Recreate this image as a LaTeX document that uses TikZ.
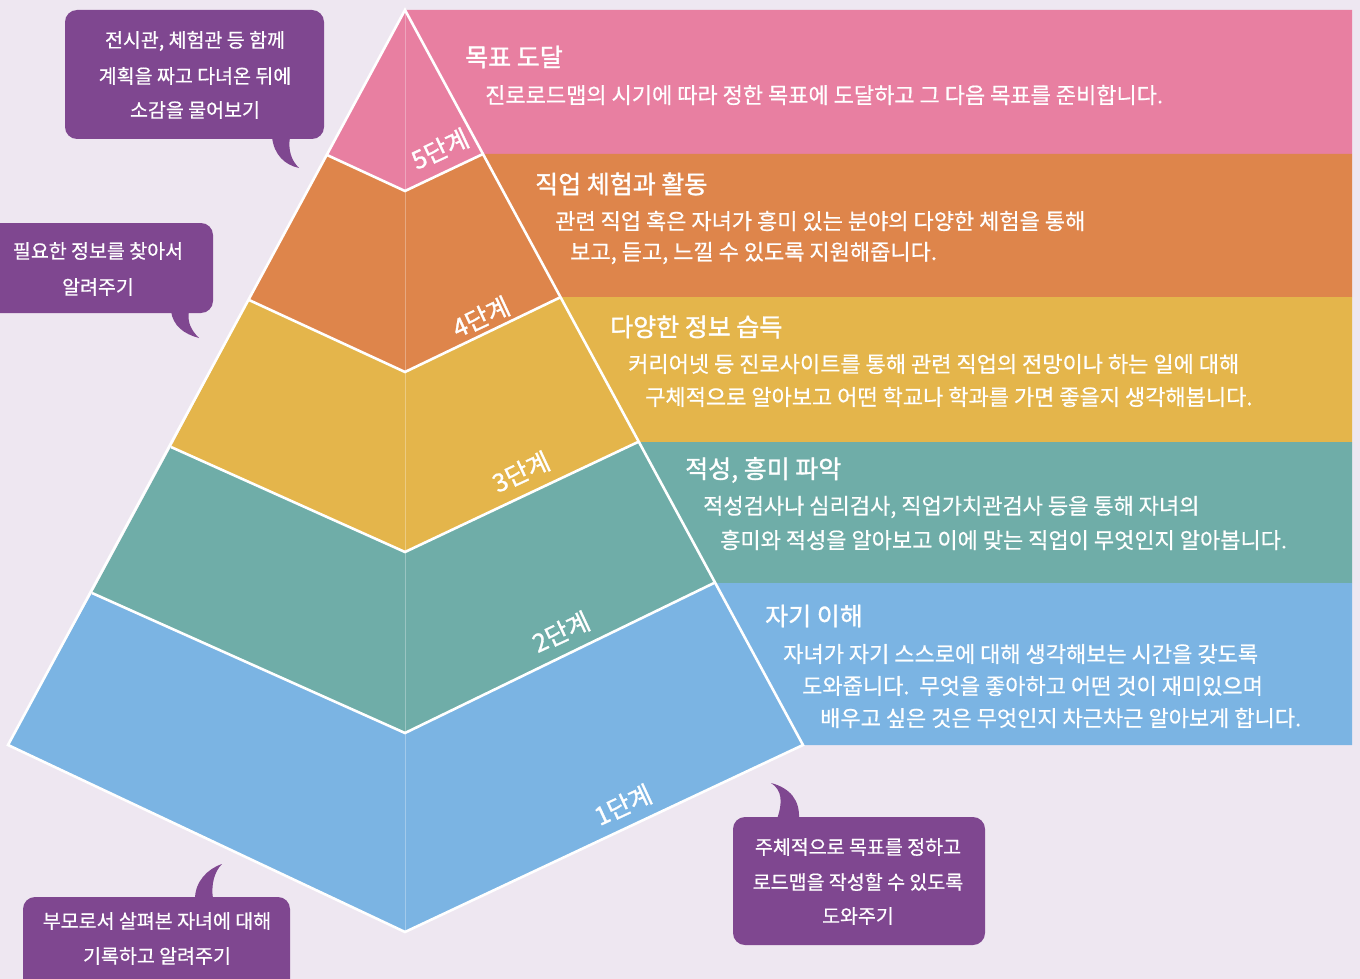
\documentclass[tikz,border=0pt]{standalone}
\usepackage{fontspec}
\setmainfont{Noto Sans CJK KR}
\newfontfamily\krm{Noto Sans CJK KR}[FakeBold=0.6]
\newfontfamily\krb{Noto Sans CJK KR}[FakeBold=1.3]
\definecolor{bgc}{HTML}{EEE7F1}
\definecolor{c5}{HTML}{E87FA1}
\definecolor{c4}{HTML}{DE854B}
\definecolor{c3}{HTML}{E4B54B}
\definecolor{c2}{HTML}{6FADA8}
\definecolor{c1}{HTML}{7BB4E3}
\definecolor{bub}{HTML}{7F4790}
\tikzset{
  wline/.style={draw=white, line width=2.6pt, line join=miter},
  ttl/.style={anchor=west, text=white, inner sep=0pt, font=\krb\fontsize{25}{25}\selectfont},
  bdy/.style={anchor=west, text=white, inner sep=0pt, font=\krm\fontsize{22}{22}\selectfont},
  stp/.style={text=white, inner sep=0pt, rotate=25, font=\krb\fontsize{25}{25}\selectfont},
  bubble/.style={fill=bub, rounded corners=12pt},
  tail/.style={fill=bub},
  btx/.style={text=white, inner sep=0pt, font=\krm\fontsize{19.5}{19.5}\selectfont}
}
\begin{document}
\begin{tikzpicture}[x=1pt,y=-1pt]
\useasboundingbox (0,0) rectangle (1360,979);
\fill[bgc] (0,0) rectangle (1360,979);
% key points
\coordinate (A) at (405,10);
\coordinate (L5) at (327,155); \coordinate (C5) at (405,191); \coordinate (R5) at (483,154);
\coordinate (L4) at (249,300); \coordinate (C4) at (405,372); \coordinate (R4) at (561,297);
\coordinate (L3) at (171,447); \coordinate (C3) at (405,552); \coordinate (R3) at (638,442);
\coordinate (L2) at (92,593);  \coordinate (C2) at (405,733); \coordinate (R2) at (714,583);
\coordinate (L1) at (8,745);   \coordinate (C1) at (405,932); \coordinate (R1) at (803,745);
% right bands
\fill[c5] (A) -- (1352,10) -- (1352,154) -- (R5) -- cycle;
\fill[c4] (R5) -- (1352,154) -- (1352,297) -- (R4) -- cycle;
\fill[c3] (R4) -- (1352,297) -- (1352,442) -- (R3) -- cycle;
\fill[c2] (R3) -- (1352,442) -- (1352,583) -- (R2) -- cycle;
\fill[c1] (R2) -- (1352,583) -- (1352,745) -- (R1) -- cycle;
% pyramid faces
\fill[c5] (A) -- (R5) -- (C5) -- (L5) -- cycle;
\fill[c4] (L5) -- (C5) -- (R5) -- (R4) -- (C4) -- (L4) -- cycle;
\fill[c3] (L4) -- (C4) -- (R4) -- (R3) -- (C3) -- (L3) -- cycle;
\fill[c2] (L3) -- (C3) -- (R3) -- (R2) -- (C2) -- (L2) -- cycle;
\fill[c1] (L2) -- (C2) -- (R2) -- (R1) -- (C1) -- (L1) -- cycle;
% centre ridge
\draw[white, opacity=0.3, line width=0.9pt] (A) -- (C1);
% white outlines
\draw[wline] (A) -- (R1) -- (C1) -- (L1) -- cycle;
\draw[wline] (L5) -- (C5) -- (R5);
\draw[wline] (L4) -- (C4) -- (R4);
\draw[wline] (L3) -- (C3) -- (R3);
\draw[wline] (L2) -- (C2) -- (R2);
% step labels
\node[stp] (s5) at (440,149) {5단계};
\node[stp] (s4) at (481,317) {4단계};
\node[stp] (s3) at (521,472) {3단계};
\node[stp] (s2) at (561,632) {2단계};
\node[stp] (s1) at (623,805) {1단계};
% band texts
\node[ttl] (t5) at (465,57) {목표 도달};
\node[bdy] (b5a) at (485,95) {진로로드맵의 시기에 따라 정한 목표에 도달하고 그 다음 목표를 준비합니다.};
\node[ttl] (t4) at (535,184) {직업 체험과 활동};
\node[bdy] (b4a) at (555,221) {관련 직업 혹은 자녀가 흥미 있는 분야의 다양한 체험을 통해};
\node[bdy] (b4b) at (570,253) {보고, 듣고, 느낄 수 있도록 지원해줍니다.};
\node[ttl] (t3) at (610,327) {다양한 정보 습득};
\node[bdy] (b3a) at (628,364) {커리어넷 등 진로사이트를 통해 관련 직업의 전망이나 하는 일에 대해};
\node[bdy] (b3b) at (645,397) {구체적으로 알아보고 어떤 학교나 학과를 가면 좋을지 생각해봅니다.};
\node[ttl] (t2) at (685,470) {적성, 흥미 파악};
\node[bdy] (b2a) at (703,507) {적성검사나 심리검사, 직업가치관검사 등을 통해 자녀의};
\node[bdy] (b2b) at (720,540) {흥미와 적성을 알아보고 이에 맞는 직업이 무엇인지 알아봅니다.};
\node[ttl] (t1) at (765,616) {자기 이해};
\node[bdy] (b1a) at (783,654) {자녀가 자기 스스로에 대해 생각해보는 시간을 갖도록};
\node[bdy] (b1b) at (802,686) {도와줍니다.\ \ 무엇을 좋아하고 어떤 것이 재미있으며};
\node[bdy] (b1c) at (820,718) {배우고 싶은 것은 무엇인지 차근차근 알아보게 합니다.};
% bubble 1
\fill[bubble] (65,10) rectangle (324,139);
\fill[tail] (272,137) .. controls (274,155) and (285,165) .. (299,168) .. controls (291,160) and (288,150) .. (290,137) -- cycle;
\node[btx] (q1a) at (195,41) {전시관, 체험관 등 함께};
\node[btx] (q1b) at (195,76) {계획을 짜고 다녀온 뒤에};
\node[btx] (q1c) at (195,110) {소감을 물어보기};
% bubble 2
\fill[bubble] (-20,223) rectangle (213,313);
\fill[tail] (171,311) .. controls (173,326) and (184,334) .. (199,338) .. controls (191,330) and (187,322) .. (189,311) -- cycle;
\node[btx] (q2a) at (98,251) {필요한 정보를 찾아서};
\node[btx] (q2b) at (98,287) {알려주기};
% bubble 3
\fill[bubble] (733,817) rectangle (985,945);
\fill[tail] (777,819) .. controls (783,802) and (782,790) .. (771,783) .. controls (790,788) and (800,800) .. (799,819) -- cycle;
\node[btx] (q3a) at (858,847) {주체적으로 목표를 정하고};
\node[btx] (q3b) at (858,882) {로드맵을 작성할 수 있도록};
\node[btx] (q3c) at (858,916) {도와주기};
% bubble 4
\fill[bubble] (23,897) rectangle (290,1000);
\fill[tail] (195,899) .. controls (195,882) and (207,869) .. (222,864) .. controls (214,872) and (211,885) .. (213,899) -- cycle;
\node[btx] (q4a) at (157,921) {부모로서 살펴본 자녀에 대해};
\node[btx] (q4b) at (157,956) {기록하고 알려주기};
\end{tikzpicture}
\end{document}
